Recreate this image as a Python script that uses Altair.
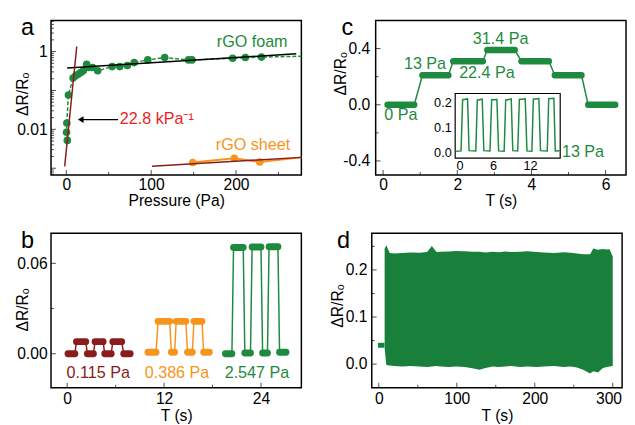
import altair as alt
import pandas as pd

FONT = "Liberation Sans"
GREEN = "#1e8a3e"
DGREEN = "#18803a"
ORANGE = "#f7941d"
DRED = "#8a1c1c"
RED = "#ec1c24"
W, H = 256, 158

# ---------------- panel a data ----------------
foam_p = [1.2, 0.3, 0.6, 2.5, 8, 11, 14, 17, 20, 24, 26, 31, 37, 54, 63, 72, 80, 96, 116, 144, 148, 196, 211, 230]
foam_v = [0.0052, 0.0084, 0.0145, 0.076, 0.21, 0.24, 0.26, 0.29, 0.32, 0.47, 0.39, 0.39, 0.32, 0.41, 0.41,
          0.44, 0.52, 0.61, 0.70, 0.61, 0.61, 0.67, 0.70, 0.72]
foam_tail_p, foam_tail_v = 277, 0.76
sheet_p = [149, 198, 228]
sheet_v = [0.0014, 0.0018, 0.00144]
sheet_tail_p, sheet_tail_v = 277, 0.0019
fit_lin_p, fit_lin_v = [1, 271], [0.376, 0.875]
fit_steep_p, fit_steep_v = [-1.9, 12.3], [0.00112, 1.35]
fit_sheet_p, fit_sheet_v = [101, 277], [0.00112, 0.0019]
arrow_from, arrow_to, arrow_v = 61, 17, 0.0178
a_text_x = [219, 220, 63]
a_text_y = [1.78, 0.004, 0.0178]
a_text = ["rGO foam", "rGO sheet", "22.8 kPa\u207b\u00b9"]

# ---------------- panel b data ----------------
red_s = [0.1, 1.15, 2.5, 3.45, 4.65, 5.65, 7.0]
red_e = [0.95, 2.3, 3.25, 4.45, 5.45, 6.75, 7.8]
red_l = [0.0, 0.008, 0.0, 0.008, 0.0, 0.008, 0.0]
org_s = [10.0, 11.25, 12.9, 13.5, 14.9, 15.7, 16.9]
org_e = [11.0, 12.7, 13.3, 14.7, 15.5, 16.7, 17.6]
org_l = [0.001, 0.0215, 0.001, 0.0215, 0.001, 0.0215, 0.001]
grn_s = [19.6, 20.6, 22.0, 22.9, 24.2, 25.0, 26.3]
grn_e = [20.4, 21.8, 22.7, 24.0, 24.8, 26.1, 27.1]
grn_l = [0.0, 0.0705, 0.0005, 0.0708, 0.0005, 0.071, 0.001]
b_text_x = [3.85, 13.6, 23.5]
b_text_y = [-0.013, -0.013, -0.013]
b_text = ["0.115 Pa", "0.386 Pa", "2.547 Pa"]

# ---------------- panel c data ----------------
c_s = [0.12, 1.06, 1.89, 2.81, 3.73, 4.63, 5.53]
c_e = [0.84, 1.76, 2.69, 3.55, 4.47, 5.35, 6.26]
c_l = [0.0, 0.21, 0.31, 0.39, 0.31, 0.21, 0.0]
c_text_x = [0.48, 1.13, 2.8, 3.17, 5.39]
c_text_y = [-0.073, 0.289, 0.226, 0.47, -0.334]
c_text = ["0 Pa", "13 Pa", "22.4 Pa", "31.4 Pa", "13 Pa"]
inset_t = [0.0, 0.8, 1.06, 1.86, 2.1, 3.2, 3.44, 4.24, 4.5, 5.5, 5.77, 6.62, 6.9, 7.8, 8.05, 8.95, 9.2, 10.0,
           10.27, 11.22, 11.5, 12.3, 12.54, 13.44, 13.7, 14.8, 15.03, 15.87, 16.1, 16.8]
inset_v = [0.004, 0.005, 0.212, 0.215, 0.006, 0.005, 0.210, 0.214, 0.006, 0.005, 0.212, 0.213, 0.005, 0.004,
           0.210, 0.215, 0.006, 0.005, 0.213, 0.216, 0.005, 0.004, 0.214, 0.217, 0.006, 0.005, 0.216, 0.218,
           0.005, 0.006]
inset_xdom = [-0.15, 16.9]
inset_ydom = [-0.024, 0.237]

# ---------------- panel d data ----------------
d_start_t = [-1, 7.2]
d_start_v = [0.04, 0.04]
d_t = [7.5, 9.6, 14, 20, 30, 41, 52, 62, 68, 74, 79, 90, 99, 110, 120, 129, 137, 146, 154, 162, 170, 181, 191,
       202, 212, 225, 237, 246, 254, 262, 271, 275, 281, 287, 292, 296, 300]
d_up = [0.245, 0.2525, 0.236, 0.235, 0.236, 0.237, 0.2365, 0.238, 0.2505, 0.238, 0.2385, 0.239, 0.240, 0.2395,
        0.2385, 0.2385, 0.237, 0.2385, 0.2375, 0.239, 0.238, 0.2385, 0.2395, 0.238, 0.237, 0.236, 0.2375, 0.2365,
        0.235, 0.2335, 0.2335, 0.2455, 0.243, 0.2445, 0.2435, 0.244, 0.228]
d_lo = [0.035, -0.002, -0.003, -0.004, -0.005, -0.004, -0.005, -0.006, -0.005, -0.004, -0.005, -0.006, -0.005,
        -0.006, -0.009, -0.012, -0.008, -0.005, -0.006, -0.005, -0.004, -0.006, -0.005, -0.006, -0.005, -0.004,
        -0.006, -0.005, -0.007, -0.012, -0.02, -0.015, -0.018, -0.009, -0.006, -0.005, -0.004]


# ---------------- helpers ----------------
def df_xy(xs, ys):
    return pd.DataFrame({"x": xs, "y": ys, "i": list(range(len(xs)))})


def make_enc(sx, sy, ax, ay):
    def X(f):
        return alt.X(f, type="quantitative", scale=sx, axis=ax)

    def Y(f):
        return alt.Y(f, type="quantitative", scale=sy, axis=ay)
    return X, Y


def xaxis(values, title, pad, ty, **extra):
    return alt.Axis(values=values, title=title, labelPadding=pad, titleY=ty, titleBaseline="alphabetic",
                    titleAlign="center", titleX=W / 2, **extra)


def yaxis(values, tx, ty, pad, fmt=None, expr=None):
    kw = dict(values=values, title="\u0394R/R\u2092", titleX=tx, titleY=ty, titleAngle=270,
              titleAlign="center", titleBaseline="middle", labelPadding=pad)
    if fmt:
        kw["format"] = fmt
    if expr:
        kw["labelExpr"] = expr
    return alt.Axis(**kw)


def tick_layers(X, Y, xmaj, xmin, ymaj, ymin):
    out = []
    for vals, L in ((xmaj, 5), (xmin, 3)):
        out.append(alt.Chart(pd.DataFrame({"x": vals})).mark_tick(
            orient="vertical", size=L, thickness=1, color="black").encode(x=X("x"), y=alt.value(H - L / 2)))
    for vals, L in ((ymaj, 5), (ymin, 3)):
        out.append(alt.Chart(pd.DataFrame({"y": vals})).mark_tick(
            orient="horizontal", size=L, thickness=1, color="black").encode(y=Y("y"), x=alt.value(L / 2)))
    return out


def panel_label(letter, dx):
    return alt.Chart(pd.DataFrame({"t": [letter]})).mark_text(
        font=FONT, fontSize=24, align="center", baseline="alphabetic", color="black").encode(
        text="t:N", x=alt.value(dx), y=alt.value(15))


def texts(xs, ys, labels, colors, X, Y, align="center", size=16.5):
    out = []
    for x, y, t, c in zip(xs, ys, labels, colors):
        out.append(alt.Chart(pd.DataFrame({"x": [x], "y": [y], "t": [t]})).mark_text(
            font=FONT, fontSize=size, align=align, baseline="middle", color=c).encode(
            x=X("x"), y=Y("y"), text="t:N"))
    return out


def step_layers(starts, ends, levels, color, X, Y, thick):
    xs, ys = [], []
    for s, e, l in zip(starts, ends, levels):
        xs += [s, e]
        ys += [l, l]
    line = alt.Chart(df_xy(xs, ys)).mark_line(color=color, strokeWidth=1.5).encode(
        x=X("x"), y=Y("y"), order="i:Q")
    segs = alt.Chart(pd.DataFrame({"x": starts, "x2": ends, "y": levels})).mark_rule(
        color=color, strokeWidth=thick, strokeCap="round").encode(x=X("x"), x2="x2", y=Y("y"))
    return [line, segs]


# ---------------- panel a ----------------
a_sx = alt.Scale(domain=[-18, 277], nice=False, zero=False)
a_sy = alt.Scale(type="log", domain=[0.00067, 6.3], nice=False)
aX, aY = make_enc(a_sx, a_sy, xaxis([0, 100, 200], "Pressure (Pa)", 2, 31.5),
                  yaxis([0.01, 1], -29, 75, 4, fmt="~g"))
a_minor = [k * 10 ** n for n in range(-4, 1) for k in range(2, 10) if 0.00067 <= k * 10 ** n <= 6.3]
a_layers = [
    alt.Chart(df_xy(foam_p + [foam_tail_p], foam_v + [foam_tail_v])).mark_line(
        color=GREEN, strokeWidth=1.5, strokeDash=[4, 2]).encode(x=aX("x"), y=aY("y"), order="i:Q"),
    alt.Chart(df_xy(foam_p, foam_v)).mark_circle(size=60, color=GREEN, opacity=1).encode(x=aX("x"), y=aY("y")),
    alt.Chart(df_xy(sheet_p + [sheet_tail_p], sheet_v + [sheet_tail_v])).mark_line(
        color=ORANGE, strokeWidth=2).encode(x=aX("x"), y=aY("y"), order="i:Q"),
    alt.Chart(df_xy(sheet_p, sheet_v)).mark_circle(size=60, color=ORANGE, opacity=1).encode(x=aX("x"), y=aY("y")),
    alt.Chart(df_xy(fit_lin_p, fit_lin_v)).mark_line(color="black", strokeWidth=1.5).encode(x=aX("x"), y=aY("y")),
    alt.Chart(df_xy(fit_steep_p, fit_steep_v)).mark_line(color=DRED, strokeWidth=1.5).encode(x=aX("x"), y=aY("y")),
    alt.Chart(df_xy(fit_sheet_p, fit_sheet_v)).mark_line(color=DRED, strokeWidth=1.5).encode(x=aX("x"), y=aY("y")),
    alt.Chart(pd.DataFrame({"x": [arrow_from], "x2": [arrow_to], "y": [arrow_v]})).mark_rule(
        color="black", strokeWidth=1.2).encode(x=aX("x"), x2="x2", y=aY("y")),
    alt.Chart(df_xy([arrow_to], [arrow_v])).mark_point(
        shape="triangle-left", filled=True, size=45, color="black", opacity=1).encode(x=aX("x"), y=aY("y")),
    panel_label("a", -24),
] + texts(a_text_x[:2], a_text_y[:2], a_text[:2], [GREEN, ORANGE], aX, aY) \
  + texts(a_text_x[2:], a_text_y[2:], a_text[2:], [RED], aX, aY, align="left") \
  + tick_layers(aX, aY, [0, 100, 200], [50, 150, 250], [0.001, 0.01, 0.1, 1], a_minor)
pa = alt.layer(*a_layers).properties(width=W, height=H)

# ---------------- panel b ----------------
b_sx = alt.Scale(domain=[-2, 29], nice=False, zero=False)
b_sy = alt.Scale(domain=[-0.0225, 0.08], nice=False, zero=False)
bX, bY = make_enc(b_sx, b_sy, xaxis([0, 12, 24], "T (s)", 3, 33.5),
                  yaxis([0, 0.06], -29, 78, 4, fmt=".2f"))
b_layers = (step_layers(red_s, red_e, red_l, DRED, bX, bY, 7)
            + step_layers(org_s, org_e, org_l, ORANGE, bX, bY, 7)
            + step_layers(grn_s, grn_e, grn_l, GREEN, bX, bY, 7)
            + texts(b_text_x, b_text_y, b_text, [DRED, ORANGE, GREEN], bX, bY)
            + [panel_label("b", -24)]
            + tick_layers(bX, bY, [0, 12, 24], [6, 18], [0, 0.06], [0.03]))
pb = alt.layer(*b_layers).properties(width=W, height=H)

# ---------------- panel c ----------------
c_sx = alt.Scale(domain=[-0.2, 6.55], nice=False, zero=False)
c_sy = alt.Scale(domain=[-0.5, 0.6], nice=False, zero=False)
cX, cY = make_enc(c_sx, c_sy, xaxis([0, 2, 4, 6], "T (s)", 2, 31.5),
                  yaxis([-0.4, 0, 0.4], -36, 54, 6, expr="replace(format(datum.value, '.1f'), '\u2212', '-')"))
c_main = alt.layer(*(step_layers(c_s, c_e, c_l, GREEN, cX, cY, 6.5)
                     + texts(c_text_x, c_text_y, c_text, [GREEN] * 5, cX, cY)
                     + [panel_label("c", -29)]
                     + tick_layers(cX, cY, [0, 2, 4, 6], [1, 3, 5], [-0.4, 0, 0.4], [-0.2, 0.2])))

ci_sx = alt.Scale(domain=inset_xdom, range=[81.3, 188.7], nice=False, zero=False)
ci_sy = alt.Scale(domain=inset_ydom, range=[140.7, 74.7], nice=False, zero=False)
ci_ax = alt.Axis(orient="bottom", offset=-17.3, values=[0, 6, 12], title=None, labelFontSize=13, labelPadding=2)
ci_ay = alt.Axis(orient="left", offset=-81.3, values=[0, 0.1, 0.2], format=".1f", title=None,
                 labelFontSize=13, labelPadding=4)
ciX, ciY = make_enc(ci_sx, ci_sy, ci_ax, ci_ay)
c_inset = alt.layer(
    alt.Chart(pd.DataFrame({"x": [inset_xdom[0]], "x2": [inset_xdom[1]], "y": [inset_ydom[0]],
                            "y2": [inset_ydom[1]]})).mark_rect(
        fill="white", stroke="black", strokeWidth=1.2).encode(x=ciX("x"), x2="x2", y=ciY("y"), y2="y2"),
    alt.Chart(df_xy(inset_t, inset_v)).mark_line(color=GREEN, strokeWidth=1.5).encode(
        x=ciX("x"), y=ciY("y"), order="i:Q"),
)
pc = alt.layer(c_main, c_inset).resolve_scale(x="independent", y="independent").resolve_axis(
    x="independent", y="independent").properties(width=W, height=H)

# ---------------- panel d ----------------
d_sx = alt.Scale(domain=[-9, 312], nice=False, zero=False)
d_sy = alt.Scale(domain=[-0.05, 0.278], nice=False, zero=False)
dX, dY = make_enc(d_sx, d_sy,
                  xaxis([0, 100, 200, 300], "T (s)", 3, 33.5,
                        labelAlign=alt.condition("datum.value == 300", alt.value("right"), alt.value("center")),
                        labelOffset=alt.condition("datum.value == 300", alt.value(9), alt.value(0))),
                  yaxis([0, 0.1, 0.2], -35, 74, 5, fmt=".1f"))
d_layers = [
    alt.Chart(df_xy(d_start_t, d_start_v)).mark_line(color=DGREEN, strokeWidth=5).encode(x=dX("x"), y=dY("y")),
    alt.Chart(pd.DataFrame({"x": d_t, "y": d_up, "y2": d_lo})).mark_area(color=DGREEN, opacity=1).encode(
        x=dX("x"), y=dY("y"), y2="y2"),
    panel_label("d", -29),
] + tick_layers(dX, dY, [0, 100, 200, 300], [50, 150, 250], [0, 0.1, 0.2], [0.05, 0.15, 0.25])
pd_ = alt.layer(*d_layers).properties(width=W, height=H)

chart = alt.vconcat(
    alt.hconcat(pa, pc, spacing=26),
    alt.hconcat(pb, pd_, spacing=27),
    spacing=18.5,
).properties(padding={"left": 6, "top": 3, "right": 0, "bottom": 0}).configure_view(
    stroke="black", strokeWidth=1.5
).configure_axis(
    labelFont=FONT, titleFont=FONT, labelFontSize=16, titleFontSize=16, titleFontWeight="normal",
    labelColor="black", titleColor="black", grid=False, domain=False, ticks=False, labelPadding=4,
    titlePadding=1
)

chart.save("out.html", embed_options={"renderer": "svg", "actions": False})
